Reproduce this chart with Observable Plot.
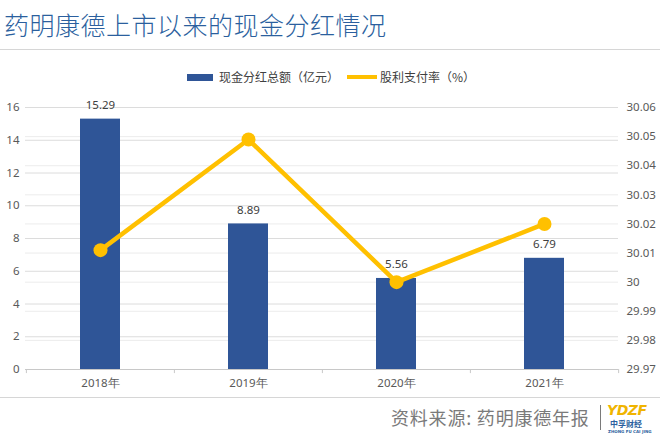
<!DOCTYPE html>
<html><head><meta charset="utf-8">
<script src="https://cdn.jsdelivr.net/npm/d3@7"></script>
<script src="https://cdn.jsdelivr.net/npm/@observablehq/plot@0.6"></script>
<style>
html,body{margin:0;padding:0;background:#fff;}
#wrap{width:660px;height:436px;position:relative;overflow:hidden;font-family:"Noto Sans CJK SC","Noto Sans",sans-serif;}
#head{height:95px;position:relative;}
#title{position:absolute;left:4px;top:6px;font-size:25px;line-height:36px;color:#2b5f9e;letter-spacing:0.5px;font-weight:300;font-family:"Noto Sans CJK SC",sans-serif;}
#sep{position:absolute;left:0;top:49px;width:660px;height:0;border-top:1.5px solid #d6d6d6;}
#legend{position:absolute;top:69px;left:187px;font-size:12px;color:#404040;display:flex;align-items:center;height:16px;line-height:16px;}
.sw1{display:inline-block;width:26px;height:7px;background:#2f5597;margin-right:6px;}
.sw2{display:inline-block;width:30px;height:4px;background:#ffc000;margin-left:8px;margin-right:3px;}
#foot{height:39px;border-top:1.5px solid #d6d6d6;position:relative;box-sizing:border-box;}
#src{position:absolute;left:391px;top:7px;font-size:18px;letter-spacing:0.8px;color:#7a7a7a;line-height:24px;}
#bar{position:absolute;left:600px;top:7px;width:0;height:25px;border-left:1.5px solid #7a7a7a;}
#logo1{position:absolute;left:607px;top:5px;font-size:14px;font-weight:bold;font-style:italic;color:#f0b400;line-height:14px;font-family:"DejaVu Sans",sans-serif;letter-spacing:-0.5px;}
#logo2{position:absolute;left:610px;top:21px;font-size:8px;font-weight:bold;color:#2b5f9e;line-height:9px;}
#logo3{position:absolute;left:608px;top:31px;font-size:4px;font-weight:bold;color:#2b5f9e;line-height:5px;font-family:"DejaVu Sans",sans-serif;white-space:nowrap;}
svg{display:block;}
</style></head>
<body><div id="wrap">
<div id="head">
<div id="title">药明康德上市以来的现金分红情况</div>
<div id="sep"></div>
<div id="legend"><span class="sw1"></span><span>现金分红总额（亿元）</span><span class="sw2"></span><span>股利支付率（%）</span></div>
</div>
<div id="chart"></div>
<div id="foot"><div id="src">资料来源: 药明康德年报</div><div id="bar"></div><div id="logo1">YDZF</div><div id="logo2">中孚财经</div><div id="logo3">ZHONG FU CAI JING</div></div>
</div>
<script>
const years = ["2018年", "2019年", "2020年", "2021年"];
const dividends = [15.29, 8.89, 5.56, 6.79];
const payoutRatio = [30.011, 30.049, 30.0, 30.02];
const leftTicks = [0, 2, 4, 6, 8, 10, 12, 14, 16];
const rightTicks = [29.97, 29.98, 29.99, 30.0, 30.01, 30.02, 30.03, 30.04, 30.05, 30.06];
const dividendLabels = ["15.29", "8.89", "5.56", "6.79"];

const rMin = 29.97, rMax = 30.06, lMax = 16;
const toLeft = v => (v - rMin) / (rMax - rMin) * lMax;

const bars = years.map((y, i) => ({year: y, value: dividends[i], label: dividendLabels[i]}));
const line = years.map((y, i) => ({year: y, value: toLeft(payoutRatio[i])}));
const rightPos = rightTicks.map(toLeft);
const rightFmt = new Map(rightPos.map((p, i) => [p.toFixed(6), String(+rightTicks[i].toFixed(2))]));

const W = 660, H = 302, ml = 25, mr = 42;
const step = (W - ml - mr) / years.length;
const font = "Noto Sans, sans-serif";

const chart = Plot.plot({
  width: W, height: H,
  marginTop: 12, marginBottom: 28, marginLeft: ml, marginRight: mr,
  style: {fontFamily: font, fontSize: "11px", color: "#595959", background: "#fff"},
  x: {domain: years, paddingInner: 0.73, paddingOuter: 0.365, label: null},
  y: {domain: [0, lMax], label: null},
  marks: [
    Plot.ruleY(rightPos, {stroke: "#ececec", strokeWidth: 1}),
    Plot.ruleY(leftTicks, {stroke: "#dcdcdc", strokeWidth: 1}),
    Plot.ruleY([0], {stroke: "#c8c8c8", strokeWidth: 1}),
    Plot.ruleX(years, {x: d => d, dx: -step / 2, y1: 0, y2: -0.25, stroke: "#c8c8c8"}),
    Plot.ruleX([years[years.length - 1]], {x: d => d, dx: step / 2, y1: 0, y2: -0.25, stroke: "#c8c8c8"}),
    Plot.barY(bars, {x: "year", y: "value", fill: "#2f5597"}),
    Plot.text(bars, {x: "year", y: "value", text: "label", dy: -14, fill: "#404040", fontSize: 11.5}),
    Plot.line(line, {x: "year", y: "value", stroke: "#ffc000", strokeWidth: 4.5}),
    Plot.dot(line, {x: "year", y: "value", fill: "#ffc000", r: 7}),
    Plot.axisY(leftTicks, {anchor: "left", tickSize: 0, tickPadding: 6, fill: "#595959", fontSize: 11.5}),
    Plot.axisY(rightPos, {anchor: "right", tickSize: 0, tickPadding: 8, fill: "#595959", fontSize: 11.5,
      tickFormat: d => rightFmt.get(d.toFixed(6))}),
    Plot.axisX({tickSize: 0, tickPadding: 9, fill: "#595959", fontSize: 11.5, label: null})
  ]
});
document.getElementById("chart").appendChild(chart);
</script>
</body></html>
